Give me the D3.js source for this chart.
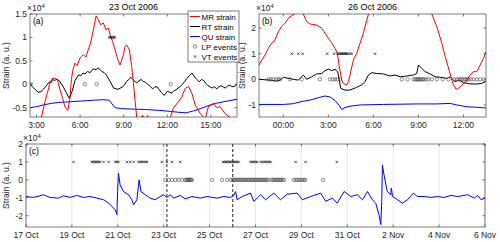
<!DOCTYPE html>
<html>
<head>
<meta charset="utf-8">
<script src="https://cdn.jsdelivr.net/npm/d3@7"></script>
<style>
  body { margin: 0; background: #fff; }
  svg { font-family: "Liberation Sans", Arial, sans-serif; }
</style>
</head>
<body>
<div id="chart"></div>
<script>
// (a) 23 Oct 2006, [hour, strain x1e4]
const mrA = [[2.55,-1.2],[3.3,-0.75],[3.45,-0.55],[3.6,-0.35],[3.8,-0.12],[3.95,0.06],[4.1,0.12],[4.3,0.13],[4.45,0.08],[4.6,-0.1],[4.8,-0.3],[4.95,-0.48],[5.15,-0.56],[5.3,-0.3],[5.4,0.1],[5.5,0.3],[5.64,0.45],[5.8,0.4],[5.99,0.56],[6.22,0.63],[6.4,0.58],[6.56,0.74],[6.72,0.88],[6.91,1.16],[7.1,1.46],[7.25,1.38],[7.41,1.27],[7.6,1.31],[7.78,1.16],[7.94,1.2],[8.1,1.02],[8.24,0.91],[8.4,0.74],[8.63,0.49],[8.75,0.41],[8.98,0.63],[9.1,0.81],[9.2,0.84],[9.39,0.74],[9.55,0.38],[9.67,0.02],[9.78,-0.34],[9.9,-0.72],[10.1,-0.8],[10.3,-0.66],[10.45,-0.75],[10.65,-0.67],[10.8,-0.8],[11.5,-0.95],[12.2,-0.72],[12.42,-0.51],[12.77,-0.37],[13.0,-0.27],[13.23,-0.09],[13.46,-0.05],[13.69,-0.19],[13.92,-0.44],[14.26,-0.62],[14.6,-0.75],[14.83,-0.48],[15.0,-0.45],[15.18,-0.41],[15.4,-0.5],[15.64,-0.48],[15.9,-0.6],[16.1,-0.66],[16.5,-0.75],[16.8,-0.85]];
const rtA = [[2.55,0.02],[2.7,-0.05],[2.8,-0.08],[2.95,-0.12],[3.1,-0.17],[3.3,-0.16],[3.5,-0.1],[3.7,-0.02],[3.9,0.05],[4.0,0.03],[4.1,0.1],[4.25,0.08],[4.4,0.11],[4.6,0.06],[4.85,-0.06],[5.05,-0.18],[5.25,-0.3],[5.45,-0.15],[5.65,0.08],[5.9,0.2],[6.05,0.18],[6.2,0.24],[6.35,0.22],[6.5,0.27],[6.7,0.25],[6.9,0.33],[7.1,0.31],[7.25,0.35],[7.5,0.27],[7.65,0.25],[7.8,0.2],[8.05,0.07],[8.3,-0.08],[8.6,-0.11],[8.9,-0.06],[9.05,-0.02],[9.2,0.06],[9.35,0.1],[9.5,0.15],[9.7,0.08],[9.9,0.03],[10.05,0.07],[10.2,0.1],[10.35,0.06],[10.5,0.04],[10.65,0.0],[10.8,-0.04],[11.0,-0.1],[11.15,-0.05],[11.3,-0.06],[11.45,-0.12],[11.6,-0.18],[11.8,-0.24],[12.0,-0.15],[12.15,-0.17],[12.3,-0.19],[12.45,-0.14],[12.6,-0.12],[12.75,-0.08],[12.9,-0.05],[13.05,0.0],[13.2,0.06],[13.35,0.12],[13.5,0.18],[13.7,0.24],[13.9,0.15],[14.05,0.1],[14.2,0.05],[14.35,0.1],[14.5,0.08],[14.65,0.02],[14.8,-0.03],[14.95,-0.06],[15.1,-0.08],[15.25,-0.05],[15.4,-0.1],[15.55,-0.06],[15.7,-0.03],[15.85,-0.06],[16.0,-0.08],[16.15,-0.04],[16.3,-0.02],[16.45,-0.05],[16.6,-0.05],[16.8,0.0]];
const quA = [[2.55,-0.5],[3.0,-0.48],[3.5,-0.44],[4.0,-0.41],[4.5,-0.39],[5.0,-0.38],[5.5,-0.37],[6.0,-0.36],[6.5,-0.35],[7.0,-0.34],[7.6,-0.33],[8.0,-0.34],[8.2,-0.42],[8.4,-0.5],[8.8,-0.52],[9.5,-0.53],[10.5,-0.54],[11.5,-0.56],[12.2,-0.58],[12.8,-0.6],[13.3,-0.61],[13.8,-0.57],[14.3,-0.52],[14.8,-0.46],[15.3,-0.41],[15.8,-0.38],[16.3,-0.35],[16.8,-0.32]];
const lpA = [2.59, 6.33, 7.14, 12.24];
const vtA = [8.0, 8.07, 8.13, 8.2, 8.27, 8.33, 8.4];

// (b) 26 Oct 2006, [hour, strain x1e4]
const mrB = [[-1.62,0.55],[-1.56,0.63],[-1.22,0.95],[-1.0,1.21],[-0.78,1.41],[-0.56,1.54],[-0.33,1.86],[-0.11,2.06],[0.11,2.19],[0.33,2.38],[0.56,2.49],[0.78,2.56],[1.0,2.75],[1.2,2.7],[1.33,2.55],[1.56,2.25],[1.78,2.16],[2.22,2.12],[2.56,1.99],[2.78,1.8],[3.0,1.6],[3.22,1.43],[3.44,1.21],[3.6,1.02],[3.73,0.49],[3.89,-0.03],[4.0,-0.16],[4.22,-0.22],[4.33,-0.09],[4.44,0.17],[4.67,0.76],[4.89,1.02],[5.11,1.41],[5.33,1.8],[5.56,2.32],[5.7,2.6],[6.0,3.2],[7.5,3.5],[9.6,3.0],[9.89,2.55],[10.22,2.06],[10.56,1.41],[10.78,0.89],[11.07,0.3],[11.29,-0.16],[11.51,-0.39],[11.67,-0.35],[11.89,-0.22],[12.18,-0.09],[12.44,0.17],[12.67,0.3],[12.89,0.3],[13.11,0.56],[13.33,0.82],[13.5,1.08]];
const rtB = [[-1.62,0],[-0.89,-0.03],[-0.44,-0.07],[-0.22,-0.03],[0,0.08],[0.33,0.04],[0.67,0],[1.0,-0.03],[1.22,0.1],[1.33,0.17],[1.56,0],[1.89,0.1],[2.22,0.21],[2.56,0.23],[2.78,0.34],[3.0,0.4],[3.22,0.34],[3.44,0.39],[3.62,0.3],[3.73,-0.03],[3.82,-0.35],[4.11,-0.42],[4.44,-0.42],[4.89,-0.31],[5.22,-0.22],[5.44,-0.09],[5.67,0.17],[5.89,0.26],[6.22,0.23],[6.67,0.21],[7.11,0.13],[7.44,0.17],[7.78,0.1],[8.22,0.13],[8.67,0.17],[8.89,0.23],[9.0,0.56],[9.22,0.43],[9.44,0.3],[9.78,0.21],[10.11,0.1],[10.44,0.08],[10.89,0.04],[11.11,0.1],[11.44,-0.09],[11.67,-0.03],[12.0,-0.13],[12.44,-0.18],[12.89,-0.18],[13.22,-0.16],[13.5,-0.07]];
const quB = [[-1.62,-0.98],[0,-0.98],[0.67,-0.95],[1.11,-0.88],[1.78,-0.81],[2.44,-0.7],[2.78,-0.65],[3.11,-0.69],[3.44,-0.82],[3.73,-1.02],[3.89,-1.18],[4.11,-1.1],[4.44,-1.05],[5.11,-1.0],[6.67,-0.98],[8.89,-0.96],[10.22,-0.96],[11.11,-0.94],[11.56,-1.0],[12.22,-1.07],[12.89,-1.09],[13.5,-1.12]];
const lpB = [-1.0,-0.84,-0.67,-0.49,-0.33,-0.22,0.44,1.22,2.44,3.11,3.29,3.44,3.6,3.78,7.89,8.27,8.67,8.78,8.89,8.96,9.02,9.11,9.2,9.29,9.38,9.51,9.67,9.89,10.22,10.62,11.0,11.38,11.56,11.67,11.78,11.89,12.0,12.11,12.22,12.33,12.49,12.67,12.89,13.11,13.33];
const vtB = [0.56,1.0,1.29,2.93,3.38,3.6,3.7,3.78,3.85,3.92,3.98,4.04,4.1,4.16,4.22,4.3,4.44,4.56,6.11];

// (c) 17 Oct - 6 Nov, [days since 17 Oct, strain x1e4]
const quC = [[0,-0.93],[0.32,-0.98],[0.61,-0.89],[0.76,-0.83],[1.05,-0.98],[1.41,-1.02],[1.63,-0.89],[1.92,-0.98],[2.21,-0.87],[2.5,-0.98],[2.79,-0.93],[3.09,-1.02],[3.38,-1.11],[3.6,-1.3],[3.89,-1.67],[3.96,-1.94],[3.99,-0.65],[4.03,0.37],[4.1,-0.28],[4.25,-0.65],[4.47,-0.83],[4.61,-1.11],[4.69,-1.39],[4.83,-1.11],[4.93,0],[5.01,-0.65],[5.2,-0.83],[5.41,-1.02],[5.63,-1.11],[5.85,-0.93],[6.0,-0.83],[6.14,-0.98],[6.29,-0.83],[6.43,-1.02],[6.72,-0.87],[6.94,-1.06],[7.23,-0.93],[7.6,-1.02],[7.89,-0.93],[8.33,-1.02],[8.62,-0.93],[8.91,-0.98],[9.05,-0.87],[9.13,-0.65],[9.2,-1.11],[9.42,-0.93],[9.78,-0.74],[9.93,-1.2],[10.22,-0.83],[10.44,-1.11],[10.8,-0.74],[11.09,-1.11],[11.38,-0.8],[11.82,-0.74],[12.04,-1.11],[12.4,-0.93],[12.84,-0.74],[13.06,-1.2],[13.35,-1.02],[13.56,-1.3],[13.86,-0.65],[14.15,-0.93],[14.44,-0.83],[14.66,-1.11],[14.88,-0.65],[15.09,-1.11],[15.24,-1.3],[15.38,-1.94],[15.46,-2.5],[15.5,-1.2],[15.53,0.83],[15.6,0.28],[15.74,-0.65],[15.89,-0.83],[15.92,-0.46],[15.97,-0.93],[16.19,-1.11],[16.4,-1.3],[16.62,-1.11],[16.88,-0.74],[17.06,-0.93],[17.35,-0.93],[17.64,-0.98],[17.93,-0.93],[18.22,-0.98],[18.52,-0.87],[18.81,-0.93],[19.24,-0.83],[19.53,-1.02],[19.68,-0.87],[19.83,-1.11],[20.0,-1.02]];
const lpC = [6.07,6.22,6.36,6.51,6.65,6.8,6.94,6.99,7.03,7.07,7.11,7.15,7.19,7.23,8.11,8.54,8.76,8.91,9.0,9.06,9.12,9.18,9.24,9.3,9.36,9.42,9.48,9.54,9.6,9.66,9.72,9.78,9.84,9.9,9.96,10.02,10.08,10.14,10.2,10.26,10.32,10.38,10.44,10.5,10.56,10.7,10.76,10.82,10.88,10.94,11.0,11.06,11.12,11.18,11.24,11.67,11.75,11.82,11.9,11.97,12.05,12.12,12.17,12.95];
const vtC = [2.07,2.87,2.93,2.99,3.05,3.11,3.17,3.23,3.38,3.6,3.89,3.96,4.03,4.4,4.54,4.69,4.9,4.98,5.05,5.12,5.2,5.27,5.92,6.14,6.36,6.72,8.59,8.65,8.71,8.77,8.83,8.89,8.95,9.01,9.07,9.13,9.2,9.27,9.78,9.85,9.93,10.0,10.07,10.22,10.3,10.38,10.45,10.52,10.59,10.66,11.75,12.18,13.54];
const markDays = [6.14, 9.01];

const hourTicksA = [3, 6, 9, 12, 15];
const hourLabelsA = ["3:00", "6:00", "9:00", "12:00", "15:00"];
const hourTicksB = [0, 3, 6, 9, 12];
const hourLabelsB = ["00:00", "3:00", "6:00", "9:00", "12:00"];
const dayTicksC = [0, 2, 4, 6, 8, 10, 12, 14, 16, 18, 20];
const dayLabelsC = ["17 Oct", "19 Oct", "21 Oct", "23 Oct", "25 Oct", "27 Oct", "29 Oct", "31 Oct", "2 Nov", "4 Nov", "6 Nov"];
const yTicksA = [-0.5, 0, 0.5, 1, 1.5];
const yTicksB = [-1, 0, 1, 2];
const yTicksC = [-2, -1, 0, 1, 2];

const seriesNames = ["MR strain", "RT strain", "QU strain", "LP events", "VT events"];
const colors = { MR: "#ff0000", RT: "#000000", QU: "#0000ff" };
const axisColor = "#262626";

const W = 500, H = 242;
const svg = d3.select("#chart").append("svg")
  .attr("width", W).attr("height", H)
  .attr("viewBox", `0 0 ${W} ${H}`);

function xMark(s) {
  return `M${-s},${-s}L${s},${s}M${-s},${s}L${s},${-s}`;
}

function panel(opt) {
  const x = d3.scaleLinear().domain(opt.xDomain).range([opt.left, opt.right]);
  const y = d3.scaleLinear().domain(opt.yDomain).range([opt.bottom, opt.top]);
  const g = svg.append("g");

  const clipId = "clip-" + opt.id;
  svg.append("clipPath").attr("id", clipId)
    .append("rect")
    .attr("x", opt.left).attr("y", opt.top)
    .attr("width", opt.right - opt.left).attr("height", opt.bottom - opt.top);

  // vertical grid (panel c only)
  if (opt.grid) {
    g.selectAll(".grid").data(opt.xTicks).enter().append("line")
      .attr("x1", d => x(d)).attr("x2", d => x(d))
      .attr("y1", opt.top).attr("y2", opt.bottom)
      .attr("stroke", "#e3e3e3").attr("stroke-width", 0.8);
  }

  const plot = g.append("g").attr("clip-path", `url(#${clipId})`);

  if (opt.marks) {
    plot.selectAll(".mark").data(opt.marks).enter().append("line")
      .attr("x1", d => x(d)).attr("x2", d => x(d))
      .attr("y1", opt.top).attr("y2", opt.bottom)
      .attr("stroke", "#222").attr("stroke-width", 1)
      .attr("stroke-dasharray", "3,2");
  }

  const line = d3.line().x(d => x(d[0])).y(d => y(d[1]));
  opt.lines.forEach(s => {
    plot.append("path").datum(s.data)
      .attr("d", line)
      .attr("fill", "none")
      .attr("stroke", s.color)
      .attr("stroke-width", 1)
      .attr("stroke-linejoin", "round");
  });

  plot.selectAll(".lp").data(opt.lp).enter().append("circle")
    .attr("cx", d => x(d)).attr("cy", y(0)).attr("r", 1.7)
    .attr("fill", "none").attr("stroke", "#444").attr("stroke-width", 0.6);

  plot.selectAll(".vt").data(opt.vt).enter().append("path")
    .attr("transform", d => `translate(${x(d)},${y(1)})`)
    .attr("d", xMark(1.2))
    .attr("stroke", "#222").attr("stroke-width", 0.7);

  // box and ticks
  g.append("rect")
    .attr("x", opt.left).attr("y", opt.top)
    .attr("width", opt.right - opt.left).attr("height", opt.bottom - opt.top)
    .attr("fill", "none").attr("stroke", axisColor).attr("stroke-width", 0.6);

  const tl = 2.5;
  opt.xTicks.forEach(t => {
    g.append("line").attr("x1", x(t)).attr("x2", x(t))
      .attr("y1", opt.bottom).attr("y2", opt.bottom - tl)
      .attr("stroke", axisColor).attr("stroke-width", 0.6);
    g.append("line").attr("x1", x(t)).attr("x2", x(t))
      .attr("y1", opt.top).attr("y2", opt.top + tl)
      .attr("stroke", axisColor).attr("stroke-width", 0.6);
  });
  opt.yTicks.forEach(t => {
    g.append("line").attr("x1", opt.left).attr("x2", opt.left + tl)
      .attr("y1", y(t)).attr("y2", y(t))
      .attr("stroke", axisColor).attr("stroke-width", 0.6);
    g.append("line").attr("x1", opt.right).attr("x2", opt.right - tl)
      .attr("y1", y(t)).attr("y2", y(t))
      .attr("stroke", axisColor).attr("stroke-width", 0.6);
  });

  g.selectAll(".xl").data(opt.xTicks).enter().append("text")
    .attr("x", d => x(d)).attr("y", opt.bottom + 11)
    .attr("text-anchor", "middle").attr("font-size", 8.5)
    .attr("fill", axisColor)
    .text((d, i) => opt.xLabels[i]);

  g.selectAll(".yl").data(opt.yTicks).enter().append("text")
    .attr("x", opt.left - 3).attr("y", d => y(d) + 3)
    .attr("text-anchor", "end").attr("font-size", 8.5)
    .attr("fill", axisColor)
    .text(d => String(d));

  // x10^4 multiplier
  const ex = g.append("text")
    .attr("x", opt.left - 3).attr("y", opt.top - 3)
    .attr("font-size", 8.5).attr("fill", axisColor);
  ex.append("tspan").text("\u00d710");
  ex.append("tspan").attr("dy", -3).attr("font-size", 6).text("4");

  g.append("text")
    .attr("x", opt.left + 3).attr("y", opt.top + 10)
    .attr("font-size", 8.5).attr("fill", "#000")
    .text(opt.tag);

  if (opt.title) {
    g.append("text")
      .attr("x", (opt.left + opt.right) / 2).attr("y", opt.top - 4)
      .attr("text-anchor", "middle").attr("font-size", 9)
      .attr("fill", "#000")
      .text(opt.title);
  }

  g.append("text")
    .attr("transform", `translate(${opt.ylabelX},${(opt.top + opt.bottom) / 2}) rotate(-90)`)
    .attr("text-anchor", "middle").attr("font-size", 8.5)
    .attr("fill", axisColor)
    .text("Strain (a. u.)");

  return { x, y, g };
}

panel({
  id: "a", left: 30, right: 237, top: 14, bottom: 117,
  xDomain: [2.55, 16.8], yDomain: [-0.7, 1.5],
  xTicks: hourTicksA, xLabels: hourLabelsA, yTicks: yTicksA,
  lines: [{ data: quA, color: colors.QU }, { data: rtA, color: colors.RT }, { data: mrA, color: colors.MR }],
  lp: lpA, vt: vtA, tag: "(a)", title: "23 Oct 2006", ylabelX: 9
});

panel({
  id: "b", left: 259, right: 486, top: 14, bottom: 117,
  xDomain: [-1.62, 13.5], yDomain: [-1.47, 2.55],
  xTicks: hourTicksB, xLabels: hourLabelsB, yTicks: yTicksB,
  lines: [{ data: quB, color: colors.QU }, { data: rtB, color: colors.RT }, { data: mrB, color: colors.MR }],
  lp: lpB, vt: vtB, tag: "(b)", title: "26 Oct 2006", ylabelX: 245
});

panel({
  id: "c", left: 26, right: 485, top: 144, bottom: 227,
  xDomain: [0, 20], yDomain: [-2.63, 2],
  xTicks: dayTicksC, xLabels: dayLabelsC, yTicks: yTicksC,
  lines: [{ data: quC, color: colors.QU }],
  lp: lpC, vt: vtC, tag: "(c)", grid: true, marks: markDays, ylabelX: 9
});

// legend in panel (a)
const lg = svg.append("g").attr("transform", "translate(188,11)");
lg.append("rect").attr("width", 51).attr("height", 51)
  .attr("fill", "#fff").attr("stroke", axisColor).attr("stroke-width", 0.6);
seriesNames.forEach((name, i) => {
  const cy = 5.5 + i * 10;
  if (i < 3) {
    lg.append("line").attr("x1", 2).attr("x2", 12).attr("y1", cy).attr("y2", cy)
      .attr("stroke", [colors.MR, colors.RT, colors.QU][i]).attr("stroke-width", 1);
  } else if (i === 3) {
    lg.append("circle").attr("cx", 7).attr("cy", cy).attr("r", 1.7)
      .attr("fill", "none").attr("stroke", "#444").attr("stroke-width", 0.6);
  } else {
    lg.append("path").attr("transform", `translate(7,${cy})`).attr("d", xMark(1.2))
      .attr("stroke", "#222").attr("stroke-width", 0.7);
  }
  lg.append("text").attr("x", 13.5).attr("y", cy + 3)
    .attr("font-size", 8).attr("fill", "#000").text(name);
});
</script>
</body>
</html>
